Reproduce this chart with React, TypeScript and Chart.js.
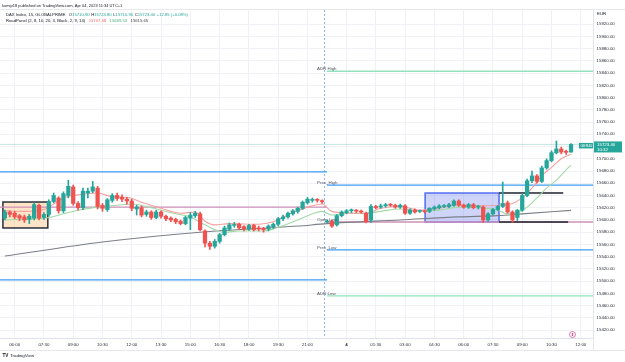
import React, { useEffect, useRef } from 'react';
import { Chart, registerables } from 'chart.js';

Chart.register(...registerables);

// ---------------- data (15-minute candles, index 0 = 05:30 on Apr 3) ----------------
const openPrices = [
  15603, 15613, 15611, 15607, 15605, 15601, 15603, 15624, 15604, 15609,
  15630, 15636, 15615, 15640, 15654, 15627, 15620, 15644, 15647, 15652,
  15624, 15617, 15632, 15640, 15637, 15634, 15631, 15618, 15620, 15609,
  15613, 15604, 15613, 15606, 15603, 15601, 15598, 15594, 15603, 15607,
  15610, 15582, 15562, 15557, 15565, 15576, 15585, 15591, 15593, 15589,
  15585, 15591, 15587, 15586, 15585, 15589, 15593, 15602, 15605, 15610,
  15614, 15619, 15628, 15632, 15633, 15631, 15596.7, 15598, 15592, 15607,
  15612, 15615, 15615, 15614, 15611, 15600, 15622, 15621, 15623, 15625,
  15624, 15621, 15623, 15611, 15616, 15614, 15614, 15614, 15618, 15620,
  15622, 15622, 15624, 15631, 15624, 15621, 15625, 15621, 15621, 15600,
  15610, 15617, 15622, 15628, 15613, 15604, 15616, 15640, 15664, 15672,
  15663, 15685, 15697, 15710, 15716, 15711, 15710.9,
];
const highPrices = [
  15616, 15615, 15614, 15609, 15608, 15609, 15628, 15626, 15612, 15633,
  15644, 15638, 15646, 15665, 15657, 15630, 15652, 15652, 15663, 15655,
  15627, 15635, 15643, 15644, 15641, 15637, 15634, 15624, 15623, 15616,
  15615, 15616, 15615, 15608, 15605, 15603, 15600, 15606, 15612, 15614,
  15613, 15584, 15565, 15568, 15578, 15590, 15595, 15596, 15595, 15591,
  15593, 15593, 15590, 15588, 15592, 15595, 15604, 15608, 15613, 15617,
  15621, 15631, 15637, 15636, 15635, 15633, 15600, 15600, 15609, 15615,
  15617, 15618, 15617, 15616, 15613, 15625, 15624, 15626, 15627, 15627,
  15626, 15626, 15625, 15618, 15618, 15616, 15616, 15620, 15623, 15625,
  15625, 15627, 15633, 15633, 15626, 15627, 15627, 15624, 15623, 15612,
  15619, 15624, 15662, 15631, 15615, 15617, 15643, 15667, 15680, 15674,
  15688, 15700, 15713, 15729, 15719, 15714, 15724.8,
];
const lowPrices = [
  15600, 15605, 15602, 15599, 15596, 15594, 15600, 15600, 15601, 15606,
  15628, 15611, 15612, 15636, 15624, 15616, 15617, 15636, 15644, 15618,
  15614, 15614, 15629, 15632, 15630, 15626, 15615, 15608, 15605, 15606,
  15601, 15602, 15603, 15599, 15597, 15594, 15592, 15592, 15584, 15604,
  15582, 15556, 15552, 15554, 15562, 15574, 15583, 15588, 15584, 15582,
  15583, 15582, 15582, 15580, 15582, 15586, 15590, 15599, 15603, 15608,
  15611, 15617, 15626, 15629, 15629, 15627, 15595, 15588, 15590, 15605,
  15610, 15612, 15612, 15611, 15595, 15596, 15618, 15619, 15621, 15622,
  15619, 15619, 15609, 15609, 15611, 15612, 15611, 15612, 15616, 15618,
  15620, 15620, 15622, 15622, 15619, 15619, 15618, 15618, 15596, 15598,
  15608, 15615, 15620, 15611, 15596, 15599, 15614, 15638, 15661, 15660,
  15661, 15683, 15695, 15708, 15708, 15707, 15710.9,
];
const closePrices = [
  15613, 15609, 15605, 15603, 15600, 15606, 15625, 15603, 15609, 15630,
  15640, 15615, 15643, 15655, 15627, 15620, 15647, 15647, 15654, 15622,
  15619, 15633, 15640, 15635, 15634, 15631, 15619, 15621, 15608, 15613,
  15604, 15613, 15606, 15602, 15600, 15597, 15594, 15604, 15608, 15611,
  15584, 15562, 15557, 15565, 15576, 15587, 15592, 15592, 15587, 15585,
  15591, 15584, 15585, 15584, 15590, 15593, 15602, 15605, 15611, 15615,
  15619, 15629, 15634, 15633, 15632, 15630, 15598, 15590, 15607, 15613,
  15615, 15615.5, 15614.5, 15613, 15597, 15622, 15620, 15623, 15625, 15624,
  15621, 15624, 15611, 15616, 15613, 15614.5, 15613.5, 15619, 15621, 15623,
  15623, 15625, 15631, 15624, 15621, 15625, 15620, 15621.5, 15600, 15610,
  15617, 15622, 15627, 15613, 15600, 15616, 15640, 15664, 15672, 15663,
  15685, 15697, 15710, 15716, 15711, 15710.55, 15723.4,
];

// RoadPanel moving averages (read at candle indices)
const redMaIdx = [0, 4, 8, 10, 12, 15, 19, 22, 25, 28, 32, 36, 39, 41, 43, 46, 52, 55, 59, 62, 65, 67, 71, 74, 77, 81, 85, 89, 93, 97, 101, 104, 106, 108, 110, 112, 114, 116];
const redMaVals = [15615, 15614, 15617, 15626, 15636, 15641, 15644, 15638, 15637, 15629, 15619, 15611, 15613, 15598, 15592, 15594, 15593, 15597, 15612, 15621, 15626, 15614, 15611, 15611, 15619, 15622, 15616, 15619, 15625, 15623, 15624, 15627, 15636, 15652, 15672, 15686, 15700, 15707.48];
const greenMaIdx = [0, 4, 9, 12, 15, 19, 23, 26, 30, 35, 38, 41, 45, 48, 53, 56, 60, 63, 65, 67, 71, 74, 77, 81, 85, 89, 93, 97, 101, 103, 105, 107, 109, 111, 113, 115, 116];
const greenMaVals = [15600, 15601, 15604, 15610, 15616, 15621, 15624, 15626, 15620, 15610, 15605, 15592, 15580, 15582, 15582, 15588, 15600, 15610, 15614, 15608, 15611, 15611, 15614, 15618, 15615, 15616, 15621, 15620, 15616, 15610, 15612, 15621, 15636, 15652, 15665, 15682, 15689.53];
const grayMaIdx = [0, 20, 40, 60, 66, 81, 93, 101, 106, 116];
const grayMaVals = [15541, 15564, 15580, 15590, 15594, 15600, 15605, 15607, 15610, 15615.65];

// axes
const xTickIdx = [2, 8, 14, 20, 26, 32, 38, 44, 50, 56, 62, 70, 76, 82, 88, 94, 100, 106, 112, 118];
const xTickLabels = ['06:00', '07:30', '09:00', '10:30', '12:00', '13:30', '15:00', '16:30', '18:00', '19:30', '21:00', '4', '01:30', '03:00', '04:30', '06:00', '07:30', '09:00', '10:30', '12:00'];
const yTickValues = [15420, 15440, 15460, 15480, 15500, 15520, 15540, 15560, 15580, 15600, 15620, 15640, 15660, 15680, 15700, 15720, 15740, 15760, 15780, 15800, 15820, 15840, 15860, 15880, 15900, 15920];

// levels
const levelNames = ['ADR High', 'Prev_High', 'Open Line', 'Prev_Low', 'ADR Low'];
const levelValues = [15843, 15657, 15596.7, 15551, 15476];
const prevDayLevelValues = [15678.5, 15621, 15502];
const orangeBoxIdx = [-0.4, 8.8];
const orangeBoxPrice = [15629.3, 15586.9];
const blueBoxIdx = [86.1, 101.25];
const blueBoxPrice = [15644, 15596.7];
const blackLineStart = [101.25, 101.25];
const blackLineEnd = [114.4, 115.4];
const blackLinePrice = [15644, 15596.7];
const lastPrice = 15723.4;
const sessionBreakIdx = 65.5;
const levelStartIdx = 66;

// header texts
const publishLine = 'kumip18 published on TradingView.com, Apr 04, 2023 11:34 UTC+1';
const symbolLine = 'DAX Index, 15, GLOBALPRIME';
const ohlcKeys = ['O', 'H', 'L', 'C'];
const ohlcValues = ['15710.90', '15724.80', '15710.90', '15723.40'];
const changeText = '+12.85 (+0.08%)';
const indicatorLine = 'RoadPanel (2, 8, 10, 20, 3, Black, 2, 9, 14)';
const indicatorValues = ['15707.48', '15689.53', '15615.65'];

// ---------------- styles ----------------
const UP = '#26a69a';
const DOWN = '#ef5350';
const FONT = "'Liberation Sans', Arial, sans-serif";
const TXT = '#131722';
const X_MIN = -1;
const X_MAX = 120.5;
const Y_MIN = 15407.1;
const Y_MAX = 15943.1;

function hline(x0: number, x1: number, v: number, color: string, width: number, order: number) {
  return {
    type: 'line' as const,
    data: [{ x: x0, y: v }, { x: x1, y: v }],
    borderColor: color,
    borderWidth: width,
    pointRadius: 0,
    fill: false,
    order,
  };
}

function maLine(idx: number[], vals: number[], color: string, width: number) {
  return {
    type: 'line' as const,
    data: idx.map((x, k) => ({ x, y: vals[k] })),
    borderColor: color,
    borderWidth: width,
    pointRadius: 0,
    fill: false,
    cubicInterpolationMode: 'monotone' as const,
    order: 2,
  };
}

function segs(ctx: CanvasRenderingContext2D, x: number, y: number, parts: [string, string][]) {
  let cx = x;
  for (const [t, c] of parts) {
    ctx.fillStyle = c;
    ctx.fillText(t, cx, y);
    cx += ctx.measureText(t).width;
  }
  return cx;
}

const overlay = {
  id: 'tvOverlay',
  beforeDatasetsDraw(chart: any) {
    const { ctx, chartArea: a } = chart;
    const xs = chart.scales.x;
    const ys = chart.scales.y;
    ctx.save();
    ctx.beginPath();
    ctx.rect(a.left, a.top, a.right - a.left, a.bottom - a.top);
    ctx.clip();
    const box = (idx: number[], pr: number[], fill: string, stroke: string) => {
      const x0 = xs.getPixelForValue(idx[0]);
      const x1 = xs.getPixelForValue(idx[1]);
      const y0 = ys.getPixelForValue(pr[0]);
      const y1 = ys.getPixelForValue(pr[1]);
      ctx.fillStyle = fill;
      ctx.fillRect(x0, y0, x1 - x0, y1 - y0);
      ctx.strokeStyle = stroke;
      ctx.lineWidth = 1.5;
      ctx.strokeRect(x0, y0, x1 - x0, y1 - y0);
    };
    box(orangeBoxIdx, orangeBoxPrice, 'rgba(255, 183, 107, 0.38)', '#2a2e39');
    box(blueBoxIdx, blueBoxPrice, 'rgba(92, 115, 235, 0.3)', '#4f6cf0');
    const bx = xs.getPixelForValue(sessionBreakIdx);
    ctx.strokeStyle = '#8cb4ee';
    ctx.lineWidth = 1;
    ctx.setLineDash([2, 2]);
    ctx.beginPath();
    ctx.moveTo(bx, a.top);
    ctx.lineTo(bx, a.bottom);
    ctx.stroke();
    ctx.restore();
  },
  afterDatasetsDraw(chart: any) {
    const { ctx } = chart;
    const xs = chart.scales.x;
    const ys = chart.scales.y;
    ctx.save();
    ctx.font = `4.4px ${FONT}`;
    ctx.fillStyle = '#50535e';
    ctx.textBaseline = 'middle';
    ctx.textAlign = 'left';
    const lx = xs.getPixelForValue(levelStartIdx) - 10;
    levelNames.forEach((name, k) => {
      ctx.fillText(name, lx, ys.getPixelForValue(levelValues[k]) - 2);
    });
    ctx.restore();
  },
  afterDraw(chart: any) {
    const { ctx, chartArea: a } = chart;
    const ys = chart.scales.y;
    ctx.save();
    // pane borders
    ctx.strokeStyle = '#e6e8ee';
    ctx.lineWidth = 1;
    ctx.beginPath();
    ctx.moveTo(0, a.top - 0.5);
    ctx.lineTo(625, a.top - 0.5);
    ctx.moveTo(0, 350.5);
    ctx.lineTo(625, 350.5);
    ctx.moveTo(a.right + 0.5, a.bottom);
    ctx.lineTo(a.right + 0.5, 350.5);
    ctx.stroke();

    ctx.textBaseline = 'middle';
    ctx.textAlign = 'left';
    // header
    ctx.font = `4px ${FONT}`;
    ctx.fillStyle = TXT;
    ctx.fillText(publishLine, 2, 5.7);
    ctx.font = `4.2px ${FONT}`;
    let cx = segs(ctx, 6, 15, [[symbolLine, TXT]]) + 3.5;
    ohlcKeys.forEach((k, i) => {
      cx = segs(ctx, cx, 15, [[k, TXT], [ohlcValues[i], UP]]) + 1.6;
    });
    segs(ctx, cx, 15, [[changeText, UP]]);
    let ix = segs(ctx, 6, 21, [[indicatorLine, TXT]]) + 3.5;
    const ivC = ['#f06a6a', '#4caf7d', '#3a3d48'];
    indicatorValues.forEach((v, i) => {
      ix = segs(ctx, ix, 21, [[v, ivC[i]]]) + 3.5;
    });

    // EUR
    ctx.fillStyle = TXT;
    ctx.font = `4.4px ${FONT}`;
    ctx.fillText('EUR', 597, 14);

    // last price label
    const py = ys.getPixelForValue(lastPrice);
    ctx.fillStyle = UP;
    ctx.fillRect(594, py - 3, 28, 11);
    ctx.fillRect(579, py - 1.5, 14, 5.5);
    ctx.fillStyle = '#ffffff';
    ctx.fillText('15723.40', 597, py);
    ctx.fillText('10:32', 597, py + 5);
    ctx.font = `3.6px ${FONT}`;
    ctx.fillText('GER40', 580.5, py + 1.3);

    // flag icon
    ctx.strokeStyle = '#d05c9a';
    ctx.lineWidth = 0.8;
    ctx.beginPath();
    ctx.arc(572.5, 334.5, 3, 0, Math.PI * 2);
    ctx.stroke();
    ctx.fillStyle = '#d05c9a';
    ctx.fillRect(571.8, 333, 1.4, 3);

    // TradingView logo
    ctx.fillStyle = TXT;
    ctx.font = `bold 4.6px ${FONT}`;
    ctx.fillText('TV', 2.5, 355.5);
    ctx.font = `4.4px ${FONT}`;
    ctx.fillText('TradingView', 10, 355.5);
    ctx.restore();
  },
};

export default function App() {
  const ref = useRef<HTMLCanvasElement>(null);

  useEffect(() => {
    const canvas = ref.current;
    if (!canvas) return;
    const bodies: any[] = [];
    const wicks: any[] = [];
    const colors: string[] = [];
    for (let i = 0; i < openPrices.length; i++) {
      const o = openPrices[i];
      const c = closePrices[i];
      bodies.push({ x: i, y: [o, c] });
      wicks.push({ x: i, y: [lowPrices[i], highPrices[i]] });
      colors.push(c >= o ? UP : DOWN);
    }

    const datasets: any[] = [
      {
        type: 'bar',
        data: bodies,
        backgroundColor: colors,
        barThickness: 3.6,
        grouped: false,
        minBarLength: 1,
        order: 0,
      },
      {
        type: 'bar',
        data: wicks,
        backgroundColor: colors,
        barThickness: 1,
        grouped: false,
        order: 1,
      },
      maLine(redMaIdx, redMaVals, '#f5a0a0', 1.1),
      maLine(greenMaIdx, greenMaVals, '#a3d9a5', 1.1),
      maLine(grayMaIdx, grayMaVals, '#7c7f88', 1.1),
      hline(X_MIN, X_MAX, lastPrice, 'rgba(38,166,154,0.28)', 1, 4),
      hline(X_MIN, levelStartIdx, prevDayLevelValues[0], '#3d9df3', 1.3, 3),
      hline(X_MIN, levelStartIdx, prevDayLevelValues[1], '#cf8fb8', 1.3, 3),
      hline(X_MIN, levelStartIdx, prevDayLevelValues[2], '#3d9df3', 1.3, 3),
      hline(levelStartIdx, X_MAX, levelValues[0], '#92e3bb', 1.3, 3),
      hline(levelStartIdx, X_MAX, levelValues[1], '#3d9df3', 1.3, 3),
      hline(levelStartIdx, X_MAX, levelValues[2], '#cf8fb8', 1.3, 3),
      hline(levelStartIdx, X_MAX, levelValues[3], '#3d9df3', 1.3, 3),
      hline(levelStartIdx, X_MAX, levelValues[4], '#92e3bb', 1.3, 3),
      hline(blackLineStart[0], blackLineEnd[0], blackLinePrice[0], '#1e222d', 1.5, 2),
      hline(blackLineStart[1], blackLineEnd[1], blackLinePrice[1], '#1e222d', 1.5, 2),
    ];

    Chart.defaults.font.family = FONT;

    const chart = new Chart(canvas, {
      type: 'bar',
      data: { datasets },
      plugins: [overlay],
      options: {
        responsive: false,
        animation: false,
        devicePixelRatio: 1,
        events: [],
        layout: { padding: { top: 10, bottom: 12, left: 0, right: 0 } },
        plugins: { legend: { display: false }, tooltip: { enabled: false } },
        scales: {
          x: {
            type: 'linear',
            min: X_MIN,
            max: X_MAX,
            offset: false,
            bounds: 'data',
            grid: { color: '#f0f1f5', drawTicks: false, offset: false },
            border: { display: true, color: '#e0e3eb' },
            afterBuildTicks: (s: any) => {
              s.ticks = xTickIdx.map((v) => ({ value: v }));
            },
            afterFit: (s: any) => {
              s.height = 12;
            },
            ticks: {
              autoSkip: false,
              maxRotation: 0,
              padding: 4,
              color: '#2a2e39',
              font: (c: any) => ({
                size: 4.4,
                weight: c.tick && c.tick.label === '4' ? 'bold' : 'normal',
              }),
              callback: (v: any) => {
                const k = xTickIdx.indexOf(Number(v));
                return k >= 0 ? xTickLabels[k] : '';
              },
            },
          },
          y: {
            type: 'linear',
            position: 'right',
            min: Y_MIN,
            max: Y_MAX,
            bounds: 'data',
            beginAtZero: false,
            grid: { color: '#f0f1f5', drawTicks: false },
            border: { display: true, color: '#e0e3eb' },
            afterBuildTicks: (s: any) => {
              s.ticks = yTickValues.map((v) => ({ value: v }));
            },
            afterFit: (s: any) => {
              s.width = 32;
            },
            ticks: {
              padding: 3.5,
              color: '#2a2e39',
              font: { size: 4.4 },
              callback: (v: any) => Number(v).toFixed(2),
            },
          },
        },
      } as any,
    });
    return () => chart.destroy();
  }, []);

  return (
    <div style={{ position: 'absolute', left: 0, top: 0, width: 625, height: 362, background: '#ffffff' }}>
      <canvas ref={ref} width={625} height={362} style={{ display: 'block', width: 625, height: 362 }} />
    </div>
  );
}
